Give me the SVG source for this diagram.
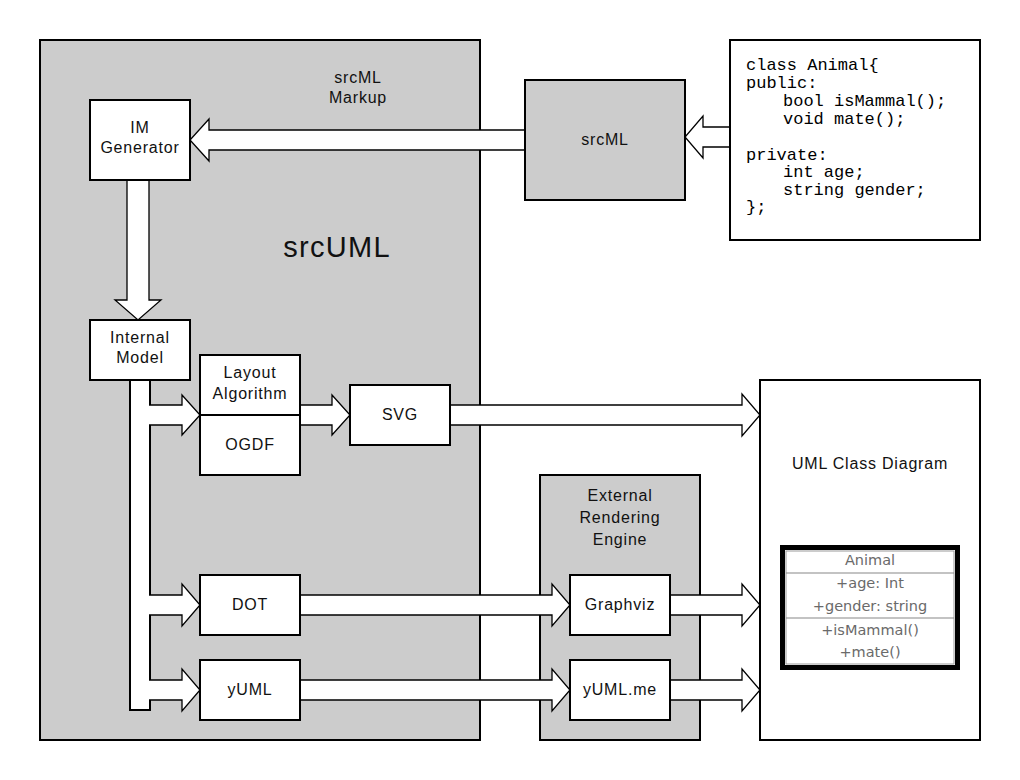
<svg xmlns="http://www.w3.org/2000/svg" width="1020" height="780" viewBox="0 0 1020 780">
<style>
.box{fill:#fff;stroke:#000;stroke-width:2}
.grey{fill:#cccccc;stroke:#000;stroke-width:2}
.lbl{font-family:"Liberation Sans",Arial,sans-serif;font-size:16px;letter-spacing:0.8px;fill:#111;text-anchor:middle}
.big{font-family:"Liberation Sans",Arial,sans-serif;font-size:29px;letter-spacing:1.3px;fill:#111;text-anchor:middle}
.code{font-family:"Liberation Mono","Courier New",monospace;font-size:17px;fill:#000}
.arr{fill:#fff;stroke:#000;stroke-width:1.3;stroke-linejoin:miter}
.cls{font-family:"DejaVu Sans",sans-serif;font-size:14.5px;fill:#6a6a6a;text-anchor:middle}
</style>
<rect width="1020" height="780" fill="#fff"/>
<g id="srcUML">
<rect class="grey" x="40" y="40" width="440" height="700"/>
<text class="lbl" x="358" y="83">srcML</text>
<text class="lbl" x="358" y="103">Markup</text>
<text class="big" x="337" y="257">srcUML</text>
</g>
<g id="external-engine">
<rect class="grey" x="540" y="475" width="160" height="265"/>
<text class="lbl" x="620" y="501">External</text>
<text class="lbl" x="620" y="523">Rendering</text>
<text class="lbl" x="620" y="545">Engine</text>
</g>
<g id="connectors">
<path class="arr" d="M730,127 H703 V116 L685,137 L703,158 V147 H730"/>
<path class="arr" d="M525,130 H209 V119 L190,140 L209,161 V150 H525"/>
<path class="arr" d="M127,180 V300 H115 L138,320 L161,300 H149 V180"/>
<rect x="130" y="379" width="20" height="331" fill="#fff" stroke="#000" stroke-width="2"/>
<path class="arr" d="M149,405 H182 V395 L200,415 L182,435 V425 H149"/>
<path class="arr" d="M300,405 H332 V395 L350,415 L332,435 V425 H300"/>
<path class="arr" d="M450,405 H742 V394 L760,415 L742,436 V425 H450"/>
<path class="arr" d="M149,595 H182 V584 L200,605 L182,626 V615 H149"/>
<path class="arr" d="M300,595 H552 V584 L570,605 L552,626 V615 H300"/>
<path class="arr" d="M670,595 H742 V584 L760,605 L742,626 V615 H670"/>
<path class="arr" d="M149,680 H182 V669 L200,690 L182,711 V700 H149"/>
<path class="arr" d="M300,680 H552 V669 L570,690 L552,711 V700 H300"/>
<path class="arr" d="M670,680 H742 V669 L760,690 L742,711 V700 H670"/>
</g>
<g id="srcML">
<rect class="grey" x="525" y="80" width="160" height="120"/>
<text class="lbl" x="605" y="145">srcML</text>
</g>
<g id="source-code">
<rect class="box" x="730" y="40" width="250" height="200"/>
<text class="code" x="746" y="70">class Animal{</text>
<text class="code" x="746" y="88">public:</text>
<text class="code" x="783" y="106">bool isMammal();</text>
<text class="code" x="783" y="124">void mate();</text>
<text class="code" x="746" y="160">private:</text>
<text class="code" x="783" y="177">int age;</text>
<text class="code" x="783" y="195">string gender;</text>
<text class="code" x="746" y="212">};</text>
</g>
<g id="im-generator">
<rect class="box" x="90" y="100" width="100" height="80"/>
<text class="lbl" x="140" y="133">IM</text>
<text class="lbl" x="140" y="153">Generator</text>
</g>
<g id="internal-model">
<rect class="box" x="90" y="320" width="100" height="60"/>
<text class="lbl" x="140" y="343">Internal</text>
<text class="lbl" x="140" y="363">Model</text>
</g>
<g id="layout-ogdf">
<rect class="box" x="200" y="355" width="100" height="120"/>
<line x1="200" y1="415" x2="300" y2="415" stroke="#000" stroke-width="2"/>
<text class="lbl" x="250" y="378">Layout</text>
<text class="lbl" x="250" y="399">Algorithm</text>
<text class="lbl" x="250" y="450">OGDF</text>
</g>
<g id="svg">
<rect class="box" x="350" y="385" width="100" height="60"/>
<text class="lbl" x="400" y="420">SVG</text>
</g>
<g id="dot">
<rect class="box" x="200" y="575" width="100" height="60"/>
<text class="lbl" x="250" y="610">DOT</text>
</g>
<g id="yuml">
<rect class="box" x="200" y="660" width="100" height="60"/>
<text class="lbl" x="250" y="695">yUML</text>
</g>
<g id="graphviz">
<rect class="box" x="570" y="575" width="100" height="60"/>
<text class="lbl" x="620" y="610">Graphviz</text>
</g>
<g id="yuml-me">
<rect class="box" x="570" y="660" width="100" height="60"/>
<text class="lbl" x="620" y="695">yUML.me</text>
</g>
<g id="uml-class-diagram">
<rect class="box" x="760" y="380" width="220" height="360"/>
<text class="lbl" x="870" y="469">UML Class Diagram</text>
<rect x="782.5" y="547.5" width="175" height="120" fill="#fff" stroke="#000" stroke-width="5"/>
<rect x="786" y="551" width="168" height="113" fill="none" stroke="#999" stroke-width="1"/>
<line x1="786" y1="573" x2="954" y2="573" stroke="#888" stroke-width="1.2"/>
<line x1="786" y1="618" x2="954" y2="618" stroke="#888" stroke-width="1.2"/>
<text class="cls" x="870" y="565">Animal</text>
<text class="cls" x="870" y="588">+age: Int</text>
<text class="cls" x="870" y="611">+gender: string</text>
<text class="cls" x="870" y="635">+isMammal()</text>
<text class="cls" x="870" y="657">+mate()</text>
</g>
</svg>
